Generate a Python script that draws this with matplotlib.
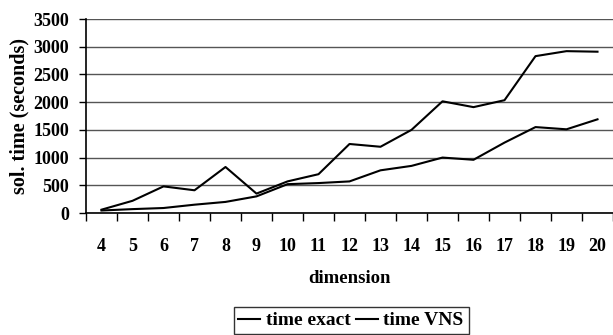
import numpy as np
import matplotlib.pyplot as plt

# dados
dimension = [4, 5, 6, 7, 8, 9, 10, 11, 12, 13, 14, 15, 16, 17, 18, 19, 20]
time_exact = [60, 220, 480, 410, 830, 350, 570, 700, 1245, 1195, 1500, 2015, 1910, 2035, 2830, 2920, 2910]
time_vns = [45, 70, 90, 150, 200, 300, 520, 540, 570, 770, 850, 1000, 960, 1270, 1550, 1510, 1690]

plt.rcParams['font.family'] = ['Liberation Serif', 'DejaVu Serif']
plt.rcParams['font.weight'] = 'bold'

fig = plt.figure(figsize=(6.13, 3.35), dpi=100)
ax = fig.add_axes([86/613, 1-213/335, 1-86/613, (213-19)/335])

pos = np.arange(len(dimension))
ax.plot(pos, time_exact, color='black', linewidth=1.5, label='time exact')
ax.plot(pos, time_vns, color='black', linewidth=1.5, label='time VNS')

ax.set_xlim(-0.5, len(dimension) - 0.5)
ax.set_ylim(0, 3500)
ax.set_yticks(np.arange(0, 3501, 500))
ax.grid(axis='y', color='#555555', linewidth=1.0)
ax.set_axisbelow(True)

# traços nas fronteiras, rótulos no meio
ax.set_xticks(np.arange(-0.5, len(dimension), 1.0))
ax.set_xticklabels([])
ax.set_xticks(pos, minor=True)
ax.set_xticklabels([str(d) for d in dimension], minor=True)
ax.tick_params(axis='x', which='major', direction='out', length=6, width=1)
ax.tick_params(axis='x', which='minor', length=0, pad=18, labelsize=13)
ax.tick_params(axis='y', direction='out', length=5, width=1, pad=7, labelsize=13)

for s in ['top', 'right']:
    ax.spines[s].set_visible(False)
for s in ['left', 'bottom']:
    ax.spines[s].set_linewidth(1.2)

ax.set_ylabel('sol. time (seconds)', fontsize=14.5, fontweight='bold', labelpad=3)
ax.set_xlabel('dimension', fontsize=13.5, fontweight='bold', labelpad=11)

leg = fig.legend(loc='upper center', bbox_to_anchor=(351/613, 1-307/335), ncol=2,
                 fontsize=14, frameon=True, fancybox=False, handlelength=1.1,
                 handletextpad=0.3, columnspacing=0.3, borderpad=0.25, borderaxespad=0)
leg.get_frame().set_edgecolor('black')
leg.get_frame().set_linewidth(1.0)

fig.savefig('out.png', dpi=100)
